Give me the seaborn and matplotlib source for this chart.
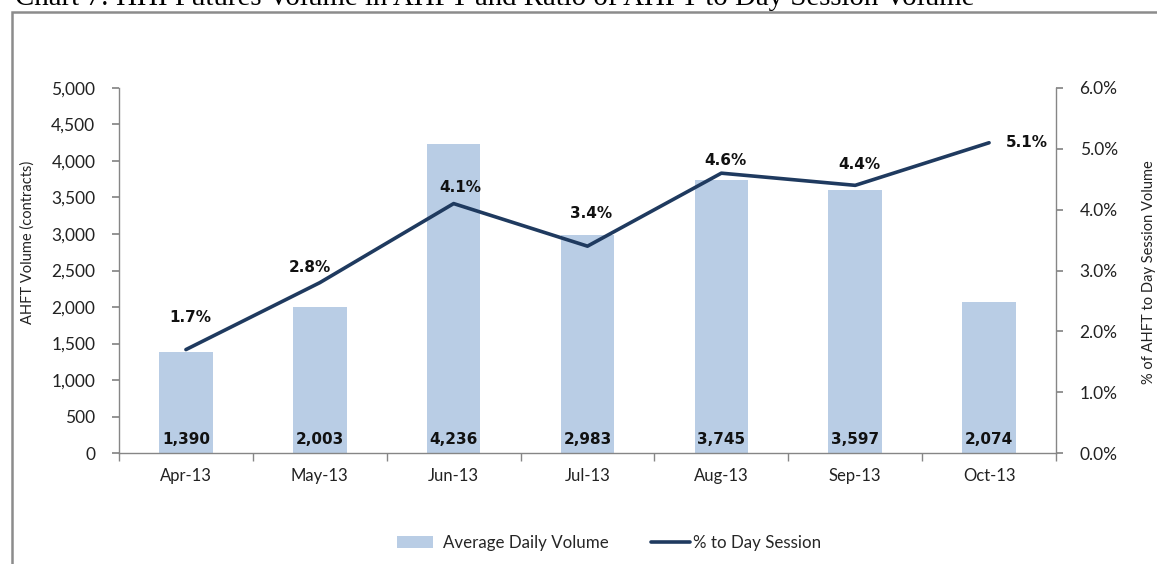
import matplotlib
matplotlib.use("Agg")
import matplotlib.pyplot as plt
import matplotlib.ticker as mticker
from matplotlib.patches import Rectangle, Patch
from matplotlib.lines import Line2D
import seaborn as sns
import numpy as np
import pandas as pd

months = ["Apr-13", "May-13", "Jun-13", "Jul-13", "Aug-13", "Sep-13", "Oct-13"]
volume = [1390, 2003, 4236, 2983, 3745, 3597, 2074]
pct_day = [1.7, 2.8, 4.1, 3.4, 4.6, 4.4, 5.1]

title = "Chart 7: HHI Futures Volume in AHFT and Ratio of AHFT to Day Session Volume"
bar_color = "#B9CDE5"
line_color = "#1F3A5F"
axis_gray = "#868686"
# label offsets in pixels (dx, dy) for line labels
line_label_offsets = [(4, 32), (-10, 15), (7, 16), (4, 33), (4, 13), (4, 21), (38, 0)]

sns.set_theme(style="white")
plt.rcParams["font.family"] = ["Lato", "DejaVu Sans"]

fig = plt.figure(figsize=(11.57, 5.64), dpi=100)
W, H = 1157, 564

# outer frame
fig.patches.append(Rectangle((12 / W, -0.05), 1.2, 1 - 12 / H + 0.05, transform=fig.transFigure,
                             fill=False, edgecolor="#8C8C8C", linewidth=1.8))
fig.text(15 / W, 1 - 5 / H, title, family="Liberation Serif", fontsize=20.8, color="black",
         ha="left", va="baseline")

ax = fig.add_axes([119 / W, 1 - 453 / H, (1056 - 119) / W, (453 - 88) / H])
df = pd.DataFrame({"month": months, "volume": volume, "pct": pct_day})
sns.barplot(data=df, x="month", y="volume", color=bar_color, width=0.4, ax=ax,
            saturation=1, edgecolor="none")
ax.set_ylim(0, 5000)
ax.set_xlim(-0.5, len(months) - 0.5)
ax.yaxis.set_major_locator(mticker.MultipleLocator(500))
ax.yaxis.set_major_formatter(mticker.StrMethodFormatter("{x:,.0f}"))
ax.set_xlabel("")
ax.set_ylabel("AHFT Volume (contracts)", fontsize=10.5, color="#222222", va="center")
ax.yaxis.set_label_coords((28 - 119) / 937, (453 - 242) / 365)

for i, v in enumerate(volume):
    ax.text(i, 180, f"{v:,}", ha="center", va="center", fontsize=11,
            fontweight="bold", family="DejaVu Sans", color="#111111")

ax2 = ax.twinx()
sns.lineplot(x=np.arange(len(months)), y=pct_day, ax=ax2, color=line_color, linewidth=2.6)
ax2.set_ylim(0, 6)
ax2.yaxis.set_major_locator(mticker.MultipleLocator(1))
ax2.yaxis.set_major_formatter(mticker.FuncFormatter(lambda v, p: f"{v:.1f}%"))
ax2.set_ylabel("% of AHFT to Day Session Volume", fontsize=10.5, color="#222222", va="center")
ax2.yaxis.set_label_coords((1149 - 119) / 937, (453 - 272) / 365)
ax2.set_xlim(-0.5, len(months) - 0.5)

for i, (p, (dx, dy)) in enumerate(zip(pct_day, line_label_offsets)):
    ax2.annotate(f"{p:.1f}%", (i, p), xytext=(dx, dy), textcoords="offset pixels",
                 ha="center", va="center", fontsize=11, fontweight="bold",
                 family="DejaVu Sans", color="#111111")

for a in (ax, ax2):
    for s in a.spines.values():
        s.set_visible(False)
ax.spines["left"].set_visible(True)
ax.spines["bottom"].set_visible(True)
ax2.spines["right"].set_visible(True)
for s in (ax.spines["left"], ax.spines["bottom"], ax2.spines["right"]):
    s.set_color(axis_gray)
    s.set_linewidth(1)

ax.tick_params(axis="y", which="major", direction="out", length=5, color=axis_gray,
               left=True, labelsize=12.5, labelcolor="#222222", pad=12)
ax2.tick_params(axis="y", which="major", direction="out", length=5, color=axis_gray,
                right=True, labelsize=12.5, labelcolor="#222222", pad=12)
ax.set_xticks(np.arange(len(months)))
ax.set_xticklabels(months)
ax.set_xticks(np.arange(-0.5, len(months)), minor=True)
ax.tick_params(axis="x", which="major", length=0, labelsize=12, labelcolor="#222222", pad=11)
ax.tick_params(axis="x", which="minor", direction="out", length=6, color=axis_gray, bottom=True)
ax2.tick_params(axis="x", which="both", length=0, labelbottom=False)

leg_y = 1 - 543 / H
leg1 = fig.legend([Patch(facecolor=bar_color, edgecolor="none")], ["Average Daily Volume"],
                  loc="center left", bbox_to_anchor=(397 / W, leg_y), frameon=False,
                  fontsize=12.2, handlelength=2.1, handleheight=0.7, handletextpad=0.6,
                  borderpad=0, borderaxespad=0)
leg2 = fig.legend([Line2D([0], [0], color=line_color, linewidth=2.6)], ["% to Day Session"],
                  loc="center left", bbox_to_anchor=(651 / W, leg_y), frameon=False,
                  fontsize=12.2, handlelength=2.3, handletextpad=0.15,
                  borderpad=0, borderaxespad=0)

fig.savefig("out.png", dpi=100)
